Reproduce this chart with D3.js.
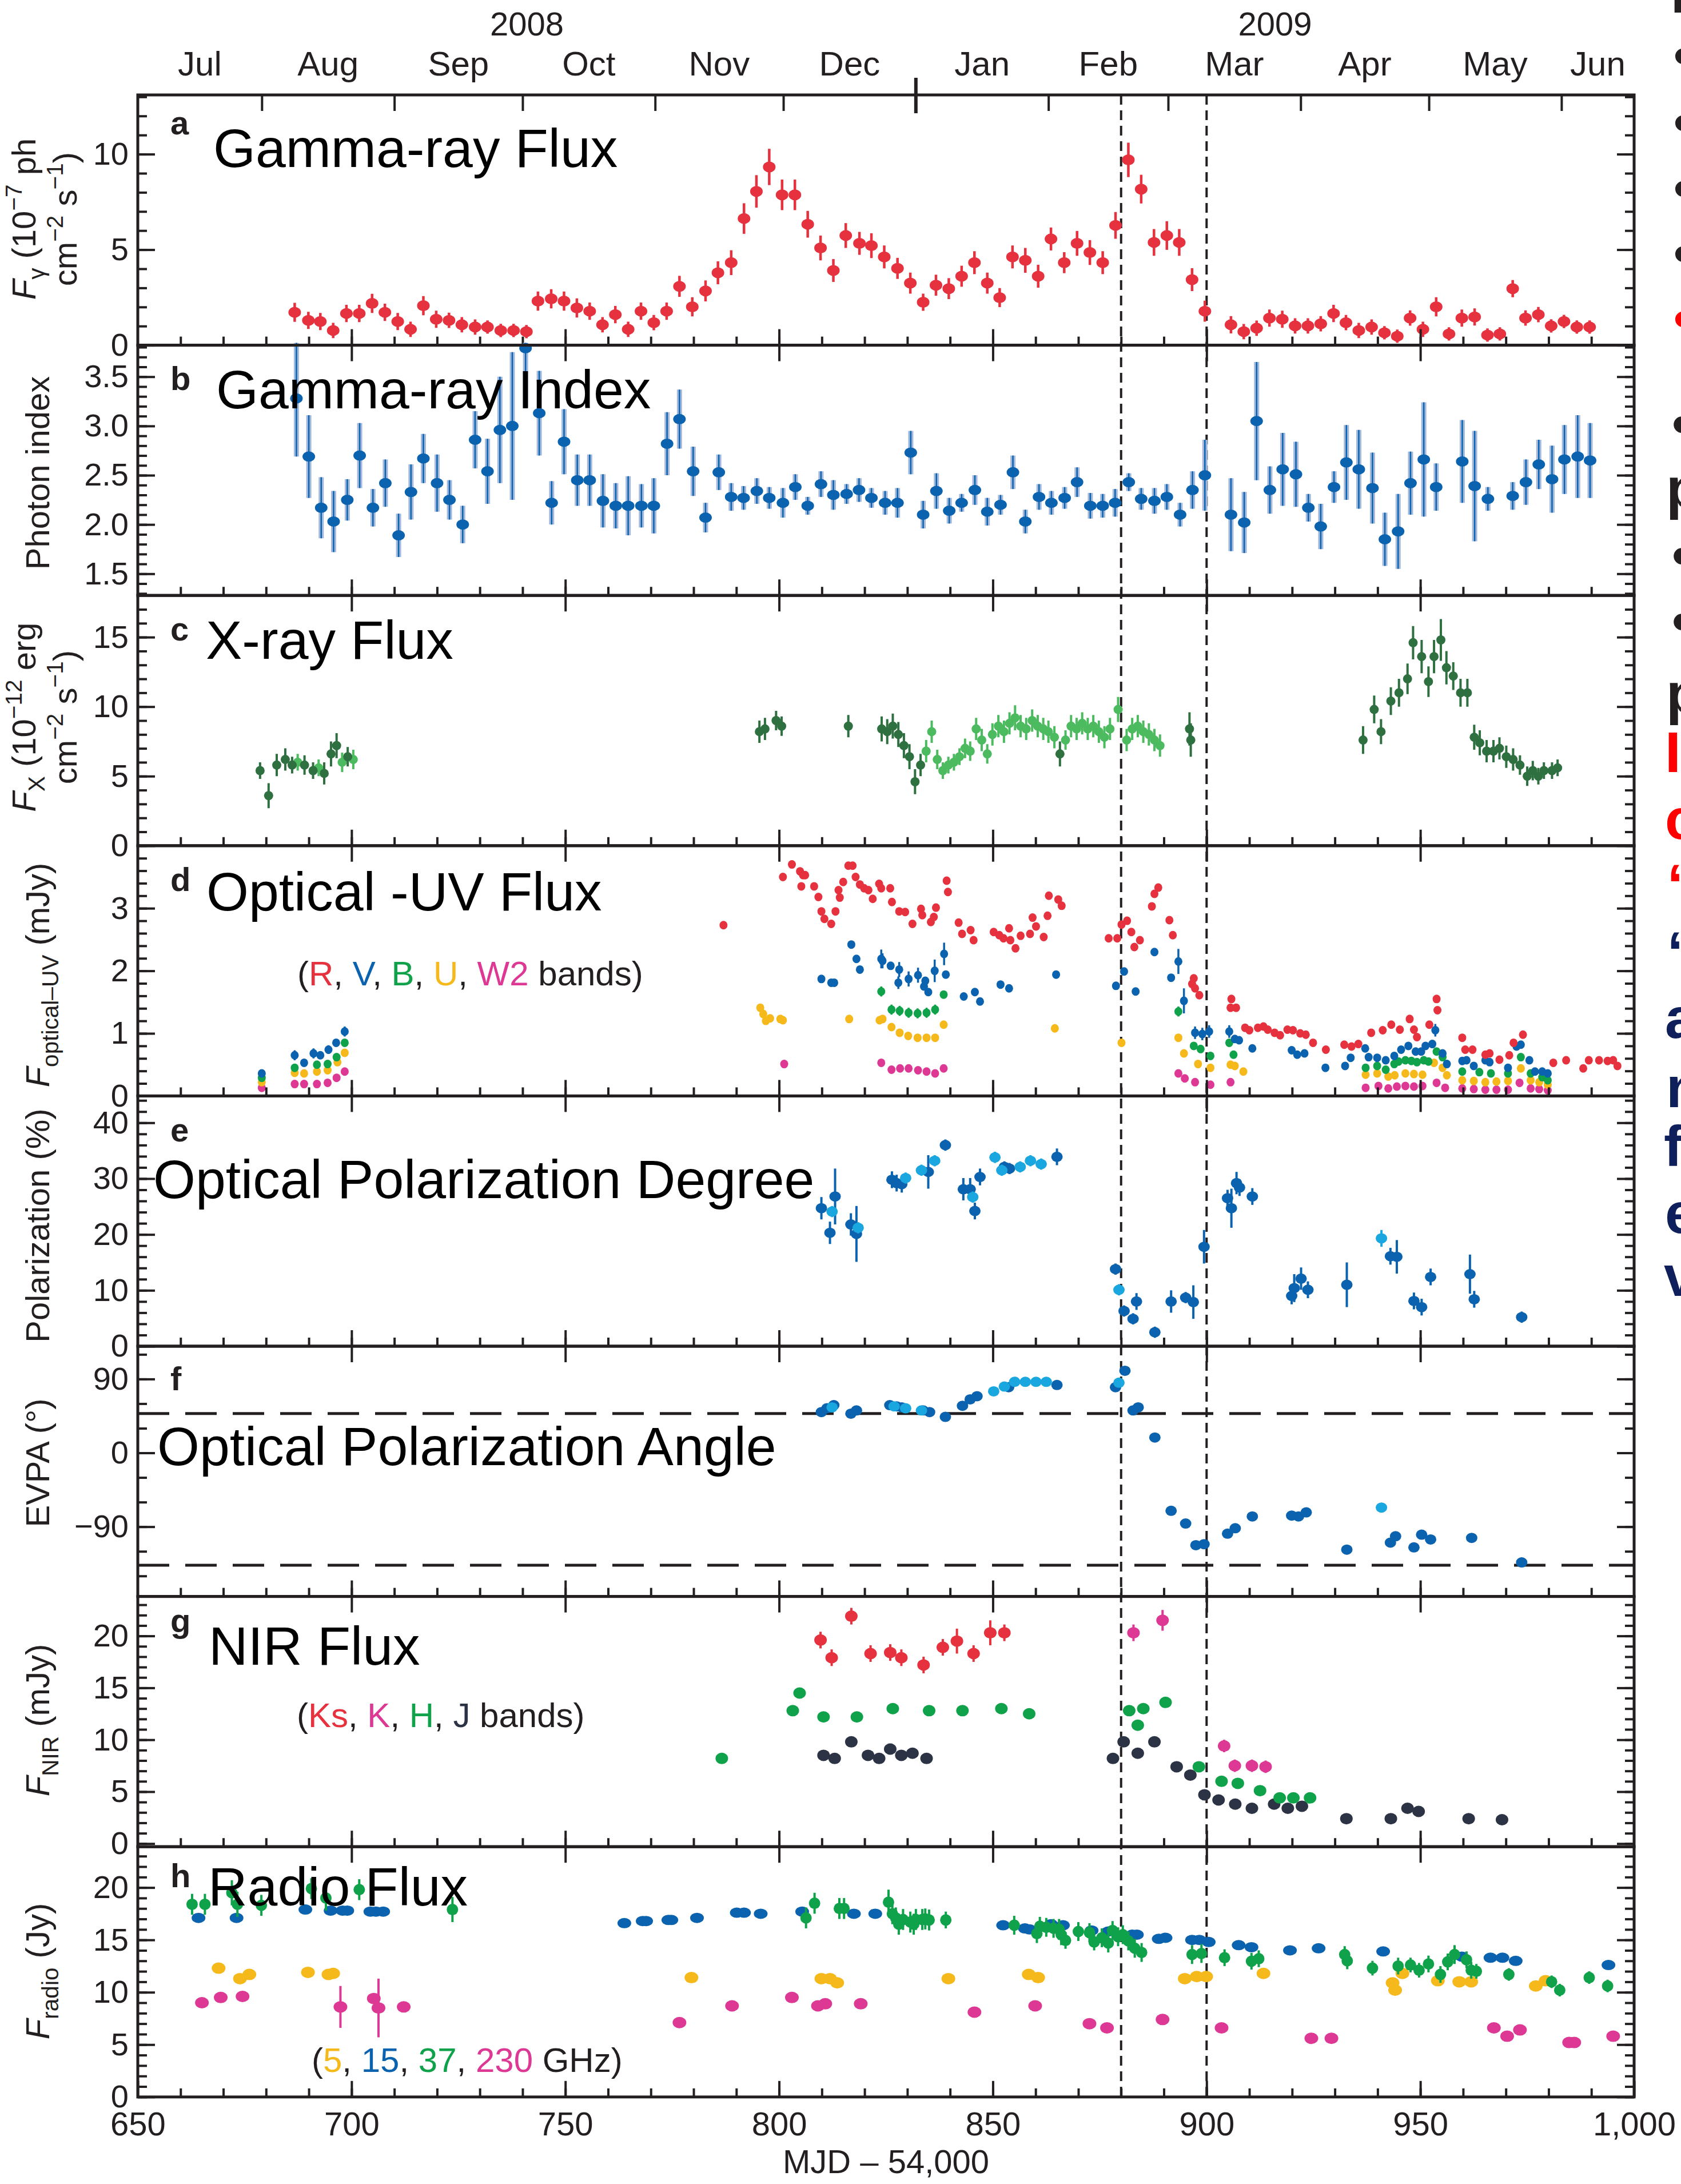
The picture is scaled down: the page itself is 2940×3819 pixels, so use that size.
<!DOCTYPE html>
<html>
<head>
<meta charset="utf-8">
<script src="https://cdn.jsdelivr.net/npm/d3@7"></script>
<style>
  html, body { margin: 0; padding: 0; background: #fff; }
  svg { display: block; font-family: "Liberation Sans", Arial, sans-serif; }
</style>
</head>
<body>
<svg id="chart" width="2940" height="3819"></svg>
<script>
// ---- data: [MJD-54000, value, error] ----
const gammaFlux = [[686.7,1.72,.5],[689.9,1.30,.45],[692.7,1.24,.45],[695.7,0.77,.4],[698.8,1.66,.45],[701.8,1.66,.45],[704.8,2.19,.5],[707.8,1.72,.45],[710.8,1.24,.45],[713.8,0.83,.4],[716.8,2.07,.5],[719.8,1.36,.45],[722.8,1.30,.4],[725.8,1.07,.4],[728.9,0.95,.4],[731.8,0.95,.35],[734.9,0.77,.35],[737.9,0.77,.35],[740.9,0.71,.35],[743.6,2.31,.5],[746.7,2.43,.5],[749.7,2.31,.5],[752.7,1.95,.5],[755.7,1.78,.45],[758.7,1.07,.4],[761.7,1.60,.45],[764.7,0.83,.4],[767.7,1.78,.45],[770.7,1.18,.4],[773.7,1.78,.45],[776.7,3.08,.55],[779.7,2.01,.5],[782.8,2.84,.55],[785.7,3.79,.6],[788.8,4.32,.65],[791.8,6.63,.8],[794.7,8.05,.85],[797.7,9.33,.95],[800.7,7.87,.8],[803.7,7.87,.8],[806.7,6.33,.7],[809.7,5.09,.65],[812.7,3.91,.6],[815.6,5.74,.65],[818.8,5.33,.6],[821.6,5.21,.65],[824.6,4.62,.6],[827.7,4.02,.55],[830.7,3.25,.55],[833.7,2.25,.45],[836.7,3.14,.55],[839.7,2.96,.55],[842.7,3.61,.55],[845.7,4.32,.6],[848.7,3.25,.55],[851.6,2.49,.5],[854.6,4.62,.6],[857.6,4.44,.65],[860.6,3.61,.6],[863.6,5.56,.6],[866.7,4.32,.55],[869.7,5.33,.65],[872.7,4.85,.65],[875.7,4.32,.6],[878.7,6.27,.7],[881.7,9.70,.9],[884.7,8.17,.75],[887.7,5.38,.7],[890.7,5.74,.75],[893.6,5.38,.7],[896.6,3.43,.6],[899.6,1.78,.55],[905.7,1.07,.45],[908.7,0.71,.4],[911.7,0.89,.4],[914.7,1.42,.45],[917.7,1.36,.45],[920.7,1.01,.4],[923.7,1.01,.4],[926.7,1.12,.4],[929.7,1.66,.45],[932.6,1.18,.4],[935.6,0.77,.4],[938.6,0.95,.4],[941.6,0.65,.35],[944.6,0.47,.35],[947.6,1.42,.4],[950.6,0.83,.4],[953.7,2.01,.5],[956.7,0.59,.35],[959.7,1.42,.45],[962.7,1.48,.45],[965.7,0.53,.35],[968.6,0.59,.35],[971.6,2.96,.45],[974.6,1.42,.4],[977.6,1.60,.4],[980.6,1.01,.35],[983.6,1.24,.35],[986.6,0.95,.35],[989.6,0.95,.35]];

const gammaIndex = [[687.1,3.28,.59],[690.0,2.69,.42],[692.9,2.17,.31],[695.8,2.03,.31],[699.0,2.25,.21],[701.9,2.70,.33],[705.0,2.17,.19],[707.9,2.42,.24],[711.0,1.89,.22],[713.9,2.33,.28],[716.8,2.67,.25],[720.0,2.42,.29],[722.9,2.25,.2],[726.0,2.00,.19],[728.9,2.86,.29],[731.8,2.54,.33],[734.7,2.96,.54],[737.6,3.00,.75],[740.7,3.79,.6],[743.9,3.13,.43],[746.8,2.22,.22],[749.7,2.84,.33],[752.8,2.45,.26],[755.7,2.45,.26],[758.8,2.24,.27],[761.8,2.19,.23],[764.7,2.19,.3],[767.8,2.19,.22],[770.7,2.19,.28],[773.8,2.82,.32],[776.7,3.07,.3],[779.9,2.54,.25],[782.8,2.07,.15],[785.9,2.53,.18],[788.8,2.28,.14],[791.7,2.27,.12],[794.8,2.34,.13],[797.7,2.27,.11],[800.9,2.22,.15],[803.8,2.38,.13],[806.7,2.19,.09],[809.8,2.41,.13],[812.7,2.30,.15],[815.8,2.31,.1],[818.7,2.35,.12],[821.6,2.27,.1],[824.8,2.22,.12],[827.7,2.22,.15],[830.8,2.73,.22],[833.7,2.10,.14],[836.8,2.34,.18],[839.8,2.14,.13],[842.7,2.22,.09],[845.8,2.35,.15],[848.7,2.13,.14],[851.8,2.20,.1],[854.7,2.53,.17],[857.6,2.03,.12],[860.8,2.28,.13],[863.7,2.22,.12],[866.8,2.27,.11],[869.7,2.43,.15],[872.8,2.19,.13],[875.7,2.19,.12],[878.6,2.22,.14],[881.8,2.43,.09],[884.7,2.26,.11],[887.8,2.24,.13],[890.7,2.28,.13],[893.8,2.10,.12],[896.7,2.35,.19],[899.6,2.50,.36],[905.7,2.10,.37],[908.8,2.02,.31],[911.7,3.05,.6],[914.8,2.35,.24],[917.8,2.56,.37],[920.9,2.51,.33],[923.8,2.17,.14],[926.7,1.98,.23],[929.8,2.38,.16],[932.7,2.63,.38],[935.6,2.56,.4],[938.8,2.37,.36],[941.7,1.85,.27],[944.8,1.93,.38],[947.7,2.42,.32],[950.8,2.66,.58],[953.7,2.38,.24],[959.8,2.64,.42],[962.7,2.39,.56],[965.8,2.26,.12],[971.6,2.29,.14],[974.7,2.43,.23],[977.7,2.61,.25],[980.8,2.46,.34],[983.7,2.66,.35],[986.8,2.69,.42],[989.7,2.65,.38]];

const xrayDark = [[678.6,5.4,.6],[680.6,3.6,.9],[682.5,5.8,.8],[684.5,6.2,.8],[686.1,5.8,.6],[689.0,5.8,.7],[691.0,5.4,.6],[693.6,5.2,.8],[695.2,6.6,.9],[696.5,7.2,.9],[699.1,6.4,.7],[795.4,8.2,.8],[796.7,8.4,.8],[799.3,9.0,.7],[800.6,8.6,.7],[816.2,8.6,.8],[824.0,8.4,.9],[825.3,8.2,.9],[826.6,8.6,.9],[827.9,8.0,.9],[829.2,7.2,.9],[830.5,6.4,.9],[831.8,4.6,.9],[833.1,5.8,.8],[865.7,6.6,.9],[896.0,8.4,1.2],[896.3,7.6,1.2],[936.6,7.6,1.0],[939.2,9.8,1.0],[940.8,8.2,.9],[943.1,10.4,1.0],[945.0,11.0,1.0],[947.0,12.0,1.1],[948.3,14.6,1.2],[950.3,13.6,1.2],[951.9,11.8,1.1],[953.2,13.6,1.2],[954.8,14.8,1.5],[956.1,12.8,1.2],[957.7,12.2,1.0],[959.4,11.0,1.0],[961.0,11.0,1.0],[962.6,7.8,.9],[963.9,7.4,.9],[965.5,6.8,.8],[967.1,6.8,.8],[968.5,7.0,.8],[970.1,6.4,.8],[971.7,6.2,.8],[973.3,5.8,.7],[975.0,5.0,.7],[976.3,5.4,.7],[977.6,5.0,.6],[978.9,5.4,.6],[980.8,5.4,.6],[982.1,5.6,.6]];
const xrayLight = [[687.4,6.0,.6],[692.3,5.6,.6],[697.8,6.0,.7],[700.4,6.2,.7],[834.4,6.8,.8],[835.7,8.2,.8],[837.0,6.2,.7],[838.3,5.4,.6],[839.6,5.8,.6],[840.9,6.0,.6],[842.2,6.4,.6],[843.5,7.0,.7],[844.7,6.8,.7],[846.1,8.4,.8],[847.4,7.6,.8],[848.7,6.6,.7],[849.9,8.0,.8],[851.3,8.6,.8],[852.6,8.2,.8],[853.9,8.8,.8],[855.2,9.2,.9],[856.5,8.6,.8],[857.8,8.4,.8],[859.2,9.0,.8],[860.5,8.6,.8],[861.8,8.4,.8],[863.0,8.2,.8],[864.4,7.8,.8],[867.0,7.6,.7],[868.3,8.6,.8],[869.6,8.4,.8],[870.9,8.8,.8],[872.2,8.4,.8],[873.5,8.6,.8],[874.8,8.2,.8],[876.1,7.8,.8],[877.4,8.4,.8],[879.3,9.8,.9],[881.3,7.6,.8],[882.6,8.4,.8],[883.9,8.6,.8],[885.2,8.2,.8],[886.5,8.0,.8],[887.8,7.6,.8],[889.1,7.2,.8]];

const optR = [[787.0,2.73],[800.9,3.50],[803.0,3.70],[804.9,3.59],[805.6,3.53],[806.1,3.53],[805.2,3.35],[808.2,3.35],[809.2,3.18],[809.9,2.95],[810.6,2.83],[812.2,2.75],[813.2,2.95],[814.2,3.17],[813.9,3.29],[815.0,3.42],[816.2,3.68],[817.2,3.68],[817.9,3.50],[818.9,3.38],[819.9,3.32],[820.9,3.29],[821.9,3.15],[823.4,3.39],[823.9,3.32],[826.0,3.32],[826.4,3.10],[828.1,2.95],[829.5,2.94],[831.2,2.75],[833.2,2.99],[833.5,2.89],[835.5,2.78],[836.2,2.86],[836.7,3.01],[839.2,3.44],[839.5,3.26],[842.0,2.77],[842.8,2.59],[844.8,2.65],[845.5,2.49],[850.2,2.62],[851.5,2.57],[852.5,2.52],[853.8,2.68],[854.1,2.49],[855.3,2.36],[856.5,2.56],[858.7,2.59],[859.3,2.85],[860.1,2.71],[861.9,2.54],[862.8,2.88],[863.1,3.20],[865.3,3.14],[866.1,3.04],[877.1,2.52],[879.1,2.52],[880.1,2.74],[881.4,2.80],[882.4,2.62],[883.1,2.38],[884.4,2.49],[887.2,3.03],[887.8,3.23],[888.7,3.33],[891.3,2.81],[892.1,2.57],[896.6,1.79],[897.0,1.88],[897.3,1.72],[898.3,1.61],[905.8,1.55],[905.6,1.41],[906.9,1.41],[909.0,1.09],[910.0,1.05],[912.0,1.09],[913.3,1.11],[914.3,1.06],[915.9,1.01],[917.2,0.97],[918.9,1.06],[920.2,1.05],[921.9,1.00],[923.2,0.98],[924.9,0.85],[927.9,0.74],[932.2,0.82],[933.9,0.79],[935.5,0.83],[938.5,1.01],[941.2,1.05],[943.2,1.14],[945.2,1.06],[947.5,1.23],[948.5,1.06],[949.2,0.94],[952.1,1.14],[953.8,1.55],[954.0,1.37],[959.8,0.93],[960.5,0.74],[962.2,0.74],[965.2,0.66],[966.2,0.68],[968.5,0.58],[970.8,0.65],[971.8,0.85],[974.0,0.98],[981.1,0.53],[984.1,0.57],[988.1,0.44],[989.4,0.57],[991.8,0.57],[993.8,0.56],[995.1,0.57],[996.1,0.48]];
const optV = [[679.0,0.36,.05],[686.7,0.65,.08],[688.9,0.53,.06],[691.1,0.68,.08],[692.7,0.65,.06],[694.6,0.74,.07],[696.4,0.85,.06],[698.4,1.03,.08],[809.9,1.87],[812.2,1.81],[812.9,1.81],[816.9,2.42],[818.1,2.19],[818.9,2.02],[823.9,2.19,.15],[824.2,2.16,.12],[826.1,2.08],[828.1,2.02,.12],[827.9,1.81,.1],[830.3,1.87,.12],[832.5,1.93,.12],[834.2,1.84],[833.9,1.75],[834.9,1.66],[836.4,2.00,.18],[838.6,2.27,.18],[839.0,1.94],[843.2,1.59],[845.8,1.66,.06],[847.0,1.51],[851.8,1.78],[853.8,1.72],[864.8,1.94],[878.8,1.76],[880.7,1.99],[883.4,1.67],[887.8,2.30],[891.7,1.89],[893.4,2.15,.2],[894.7,1.52,.2],[897.3,1.01,.1],[899.0,0.99,.1],[900.6,1.03,.1],[905.3,1.03,.1],[906.6,0.91],[907.6,0.89],[910.7,0.76],[919.9,0.73],[921.2,0.66],[922.9,0.68],[927.8,0.45],[932.4,0.48],[933.7,0.61],[937.1,0.76],[937.9,0.62],[939.9,0.61],[941.9,0.57],[943.9,0.64],[945.5,0.74],[947.2,0.80],[948.9,0.71],[950.2,0.71],[951.2,0.80],[952.8,0.83],[953.5,1.05,.1],[955.2,0.68],[956.2,0.51],[959.8,0.56],[960.8,0.57],[962.5,0.48],[965.2,0.57],[966.2,0.54],[970.5,0.45],[972.5,0.79],[973.5,0.82],[975.5,0.57],[976.8,0.39],[978.5,0.39],[979.8,0.36]];
const optB = [[679.0,0.29],[686.7,0.45],[691.9,0.50],[694.4,0.51],[696.5,0.62],[698.4,0.85],[823.9,1.67,.08],[826.3,1.38,.08],[828.2,1.36,.08],[830.3,1.33,.08],[832.4,1.32,.08],[834.5,1.33,.08],[836.5,1.38,.08],[838.5,1.62,.06],[893.4,1.35,.08],[897.0,0.80],[898.6,0.75],[900.9,0.64],[905.3,0.85],[906.3,0.66],[937.2,0.45],[939.9,0.48],[941.9,0.42],[943.9,0.51],[944.9,0.55],[946.5,0.57],[947.9,0.56],[949.2,0.54],[950.8,0.57],[951.9,0.55],[953.8,0.71],[955.2,0.62],[959.8,0.39],[963.8,0.38],[966.5,0.36],[970.5,0.36],[973.5,0.62],[975.8,0.36],[978.5,0.30],[979.8,0.25]];
const optU = [[679.0,0.22],[686.7,0.37],[688.9,0.36],[691.9,0.39],[694.4,0.41],[696.7,0.54],[698.4,0.69],[795.6,1.41],[796.3,1.31],[796.9,1.20],[797.9,1.24],[800.3,1.23],[800.9,1.21],[816.4,1.23],[823.5,1.21],[824.2,1.23],[826.3,1.10],[828.2,1.01],[830.2,0.96],[832.4,0.93],[834.5,0.93],[836.5,0.93],[838.5,1.14],[864.5,1.08],[880.1,0.85],[893.4,0.93],[894.7,0.68],[898.0,0.51],[900.9,0.45],[905.6,0.50],[906.6,0.48],[908.6,0.39],[937.2,0.34],[939.9,0.36],[942.5,0.31],[944.0,0.33],[946.5,0.36],[948.5,0.35],[950.5,0.34],[953.2,0.53],[955.2,0.45],[956.2,0.33],[959.8,0.25],[962.5,0.24],[965.2,0.22],[967.8,0.23],[970.5,0.24],[973.5,0.44],[975.8,0.25],[977.8,0.22],[979.8,0.18]];
const optW2 = [[679.0,0.13],[686.7,0.19],[688.9,0.19],[691.9,0.19],[694.4,0.21],[696.5,0.29],[698.4,0.39],[801.2,0.51],[823.9,0.53],[826.3,0.42],[828.3,0.44],[830.3,0.44],[832.5,0.41],[834.5,0.39],[836.5,0.36],[838.5,0.44],[893.4,0.36],[894.9,0.28],[897.3,0.22],[900.9,0.18],[905.6,0.22],[937.2,0.13],[940.2,0.16],[942.5,0.12],[944.5,0.15],[946.5,0.16],[948.5,0.15],[950.5,0.16],[953.8,0.21],[955.8,0.13],[959.8,0.12],[962.5,0.11],[965.2,0.10],[967.8,0.10],[970.5,0.10],[973.2,0.21],[975.8,0.12],[977.8,0.11],[979.8,0.09]];

const polDeg = [[809.9,24.7,2],[811.9,20.3,2],[813.1,26.8,5],[816.8,21.8,2],[818.1,20.1,5],[826.4,29.8,1.5],[827.5,29.2,1.5],[828.7,29.0,1.5],[834.9,31.2,3],[838.9,36.0,1],[843.1,28.1,2],[844.7,28.1,2],[845.8,24.2,1.5],[847.0,30.3,1.5],[852.7,32.1,1],[853.9,31.8,1],[865.0,33.9,1.5],[878.7,13.8,1],[880.7,6.3,1],[882.8,4.9,1],[883.6,8.0,1.5],[887.9,2.5,1],[891.7,8.0,2],[895.1,8.7,1],[896.9,7.9,3],[899.4,17.8,3],[904.9,26.5,1.5],[905.8,24.7,3.5],[907.0,29.2,2],[907.7,28.4,1.5],[910.7,26.8,1.5],[919.9,9.0,1.5],[920.5,10.4,2.5],[922.1,12.1,2],[923.7,10.1,1.5],[932.8,11.0,4],[943.0,16.1,1.5],[944.5,16.0,3],[948.5,8.1,1.5],[950.3,7.0,1.5],[952.4,12.4,1.5],[961.6,12.9,3.5],[962.6,8.4,1.5],[973.7,5.2,1]];
const polDegLight = [[812.4,24.1,1],[818.5,21.2,1],[829.6,30.1,1],[833.3,31.5,1],[836.4,33.2,1],[845.3,26.7,1],[850.5,33.8,1],[852.1,31.5,1],[856.4,32.1,1],[858.8,33.2,1],[861.3,32.6,1],[879.5,10.1,1],[940.9,19.3,1.5]];

const evpa = [[809.9,49.7,3],[811.2,54.3,3],[812.8,58.2,3],[816.8,47.8,3],[818.1,51.7,3],[825.9,58.2,3],[827.5,56.7,3],[828.7,55.5,3],[833.7,51.7,3],[835.2,49.7,3],[838.9,43.9,3],[842.9,57.4,3],[844.7,65.2,3],[846.3,69.1,3],[853.7,80.0,3],[865.0,82.7,4],[878.7,80.0,4],[880.9,100.1,5],[882.8,51.7,3],[884.0,55.5,3],[887.9,18.7,4],[891.7,-70.6,5],[895.1,-86.1,4],[897.5,-112.5,4],[899.4,-111.3,4],[904.9,-98.5,3],[906.7,-91.9,3],[910.7,-77.5,3],[919.9,-76.4,3],[921.5,-77.5,3],[923.3,-72.5,3],[932.8,-117.9,6],[943.0,-109.4,4],[944.2,-101.6,4],[948.5,-115.2,4],[950.3,-99.7,4],[952.4,-105.5,4],[962.0,-103.6,5],[973.7,-133.5,3]];
const evpaLight = [[812.4,55.5,3],[826.9,56.7,3],[829.6,54.3,3],[833.3,51.7,3],[850.2,75.0,3],[852.7,80.8,3],[855.1,86.6,3],[857.6,86.6,3],[860.1,86.6,3],[862.5,86.6,3],[879.5,85.5,3],[940.9,-66.7,3]];

const nirKs = [[809.7,19.6,.8],[812.3,17.9,.8],[816.9,21.9,.8],[821.4,18.3,.8],[826.0,18.4,.8],[828.6,17.9,.8],[833.8,17.2,.8],[838.3,18.9,.8],[841.6,19.5,1.2],[845.5,18.3,.8],[849.4,20.3,1.2],[852.7,20.3,.8]];
const nirK = [[882.9,20.3,.8],[889.7,21.5,1],[904.1,9.4,.6],[906.6,7.5,.6],[910.6,7.5,.6],[913.8,7.4,.6]];
const nirH = [[786.6,8.2],[803.2,12.8],[804.8,14.5],[810.4,12.2],[818.2,12.2],[826.6,13.0],[835.1,12.8],[842.9,12.8],[852.0,13.0],[858.5,12.5],[881.9,12.8],[883.9,11.4],[885.2,13.0],[890.4,13.6],[898.2,7.4],[903.5,6.0],[907.3,5.8],[912.5,5.1],[917.1,4.4],[920.3,4.4],[924.2,4.4]];
const nirJ = [[810.4,8.5],[813.0,8.2],[816.9,9.8],[820.8,8.5],[823.4,8.2],[826.0,9.1],[828.6,8.5],[831.2,8.7],[834.5,8.2],[878.1,8.2],[880.6,9.8],[883.9,8.7],[887.8,9.8],[893.0,7.4],[896.2,6.6],[899.5,4.7],[902.8,4.2],[906.7,3.8],[910.6,3.4],[915.8,3.8],[919.0,3.4],[922.3,3.6],[932.7,2.4],[943.1,2.4],[947.0,3.4],[949.6,3.1],[961.3,2.4],[969.1,2.3]];

const radio5 = [[668.9,12.3],[673.9,11.3],[676.1,11.7],[689.8,11.9],[694.6,11.7],[695.7,11.8],[779.5,11.4],[809.9,11.3],[811.9,11.3],[813.6,10.9],[839.6,11.3],[858.4,11.7],[860.6,11.4],[894.9,11.3],[897.7,11.5],[899.9,11.5],[913.3,11.8],[943.5,10.9],[944.1,10.2],[945.8,11.8],[954.1,11.1],[959.1,11.0],[961.9,11.0],[977.0,10.6],[979.3,11.1]];
const radio15 = [[664.2,17.1],[673.1,17.1],[689.2,17.9],[695.1,17.8],[697.9,17.8],[699.0,17.8],[704.4,17.7],[705.7,17.7],[707.4,17.7],[763.8,16.6],[768.1,16.8],[768.9,16.8],[774.1,16.9],[774.8,16.9],[780.8,17.1],[790.1,17.6],[791.8,17.6],[795.7,17.5],[805.4,17.7],[817.5,17.5],[822.5,17.5],[852.4,16.4],[857.5,16.1],[858.6,16.0],[863.6,16.5],[866.4,16.4],[873.1,15.9],[877.0,15.8],[882.6,15.5],[883.7,15.5],[888.8,15.1],[890.4,15.2],[896.6,15.0],[898.3,15.0],[900.5,14.8],[907.5,14.5],[910.5,14.3],[919.5,14.0],[926.2,14.2],[941.3,13.9],[959.7,13.4],[966.4,13.3],[969.2,13.3],[972.3,13.0],[994.0,12.6]];
const radio37 = [[662.7,18.4,1],[665.7,18.4,1],[672.0,19.5,1.2],[673.3,18.4,1.2],[678.9,18.3,1],[690.6,19.9,1],[694.0,19.0,1.2],[701.8,19.8,1],[723.6,17.9,1.2],[806.3,17.1,1],[808.3,18.5,1],[814.1,18.0,1],[815.2,18.0,1],[825.6,18.6,1.2],[826.5,17.5,1],[827.3,17.1,1],[828.0,16.5,1],[829.0,16.95,1],[830.7,16.7,1],[831.5,16.5,1],[832.0,16.95,1],[833.5,16.95,1],[834.2,17.0,1],[835.1,16.9,1],[839.0,16.9,.8],[855.0,16.4,.9],[860.3,15.6,.9],[861.0,16.3,.9],[862.5,16.2,.9],[864.2,16.1,.9],[865.5,16.0,1],[866.0,15.5,1],[867.0,14.95,.8],[870.0,15.8,.9],[872.6,15.7,.9],[873.7,14.8,.8],[875.5,15.2,.9],[877.0,14.7,.9],[878.0,15.9,.9],[879.3,15.3,.9],[880.4,15.5,.9],[881.7,14.9,.9],[883.2,14.2,.9],[884.8,13.8,.9],[896.6,13.6,.9],[898.8,13.7,.9],[904.2,13.3,.8],[910.5,12.96,.8],[912.2,13.2,.8],[932.3,13.6,.8],[932.9,13.0,.8],[938.8,12.3,.7],[944.8,12.5,.8],[947.7,12.6,.7],[949.7,12.1,.7],[951.9,12.7,.8],[954.7,11.7,.8],[956.4,12.9,.8],[958.0,13.6,.9],[960.8,13.1,.8],[961.9,12.1,.8],[963.1,12.0,.7],[970.7,11.7,.6],[980.7,11.0,.6],[982.6,10.2,.6],[989.5,11.4,.6],[993.8,10.6,.6]];
const radio230 = [[665.0,9.0],[669.4,9.5],[674.5,9.6],[697.4,8.6,2],[705.2,9.4],[706.3,8.5,2.8],[712.2,8.6],[776.7,7.1],[789.0,8.7],[803.0,9.5],[809.1,8.7],[810.8,8.9],[819.1,8.9],[845.7,8.1],[859.9,8.7],[872.6,7.0],[876.7,6.6],[889.7,7.4],[903.5,6.6],[924.5,5.6],[929.2,5.6],[967.2,6.6],[970.3,5.8],[973.3,6.4],[984.8,5.2],[986.0,5.2],[995.1,5.8]];

const monthNames = ["Jul","Aug","Sep","Oct","Nov","Dec","Jan","Feb","Mar","Apr","May","Jun"];
const monthStarts = [648,679,710,740,771,801,832,863,891,922,952,983,1013];
const yearNames = ["2008","2009"];
const yearStarts = [648,832,1013];
const flareDays = [880, 900];
const evpaGuides = [48, -137];

// ---- look ----
const ink = "#231f20", red = "#e5323e", blue = "#0b62ae", lightBlue = "#a3b9dc",
      green = "#10a24a", yellow = "#f6b91b", magenta = "#dd3893", cyan = "#1aa6df",
      navy = "#2b3344", darkGreen = "#2e7040", lightGreen = "#4cba5e";

const svg = d3.select("#chart");
const x = d3.scaleLinear().domain([650, 1000]).range([241, 2858]);
const top0 = 166, ph = 437.6;

const panels = [
  {key:"a", title:"Gamma-ray Flux", domain:[0,13.1], major:[0,5,10], minor:1, fmt:"d", letterDy:69, titleX:373, titleDy:126, labelY:383,
   label:[[["F","i"],["γ","sub"],[" (10"],["−7","sup"],[" ph"]],[["cm"],["−2","sup"],[" s"],["−1","sup"],[")"]]],
   series:[{data:gammaFlux, color:red, rx:11, ry:9.5, ew:4.5}]},
  {key:"b", title:"Gamma-ray Index", domain:[1.28,3.82], major:[1.5,2,2.5,3,3.5], minor:0.1, fmt:".1f", letterDy:78, titleX:378, titleDy:110, labelY:827,
   label:[[["Photon index"]]],
   series:[{data:gammaIndex, color:blue, bar:lightBlue, rx:11, ry:9, ew:2.5}]},
  {key:"c", title:"X-ray Flux", domain:[0,18], major:[0,5,10,15], minor:1, fmt:"d", letterDy:79, titleX:360, titleDy:111, labelY:1254,
   label:[[["F","i"],["X","sub"],[" (10"],["−12","sup"],[" erg"]],[["cm"],["−2","sup"],[" s"],["−1","sup"],[")"]]],
   series:[{data:xrayLight, color:lightGreen, rx:8, ry:8, ew:4},{data:xrayDark, color:darkGreen, rx:8, ry:8, ew:4}]},
  {key:"d", title:"Optical -UV Flux", domain:[0,4], major:[0,1,2,3], minor:0.2, fmt:"d", letterDy:79, titleX:361, titleDy:113, labelY:1705,
   label:[[["F","i"],["optical–UV","sub"],[" (mJy)"]]],
   series:[{data:optW2, color:magenta, rx:7, ry:7.5, ew:3.5},{data:optU, color:yellow, rx:7, ry:7.5, ew:3.5},{data:optB, color:green, rx:7, ry:7.5, ew:3.5},
           {data:optV, color:blue, rx:7, ry:7.5, ew:3.5},{data:optR, color:red, rx:7, ry:7.5, ew:3.5}]},
  {key:"e", title:"Optical Polarization Degree", domain:[0,44.8], major:[0,10,20,30,40], minor:2, fmt:"d", letterDy:80, titleX:268, titleDy:179, labelY:2143,
   label:[[["Polarization (%)"]]],
   series:[{data:polDeg, color:blue, rx:10, ry:9, ew:4},{data:polDegLight, color:cyan, rx:10, ry:9, ew:4}]},
  {key:"f", title:"Optical Polarization Angle", domain:[-175,130], major:[-90,0,90], minor:30, fmt:"d", letterDy:77, titleX:275, titleDy:208, labelY:2558,
   label:[[["EVPA (°)"]]],
   series:[{data:evpa, color:blue, rx:10, ry:9, ew:4},{data:evpaLight, color:cyan, rx:10, ry:9, ew:4}]},
  {key:"g", title:"NIR Flux", domain:[-0.3,23.8], major:[0,5,10,15,20], minor:1, fmt:"d", letterDy:62, titleX:365, titleDy:119, labelY:3008,
   label:[[["F","i"],["NIR","sub"],[" (mJy)"]]],
   series:[{data:nirJ, color:navy, rx:11, ry:10, ew:4},{data:nirH, color:green, rx:11, ry:10, ew:4},{data:nirK, color:magenta, rx:11, ry:10, ew:4},{data:nirKs, color:red, rx:11, ry:10, ew:4}]},
  {key:"h", title:"Radio Flux", domain:[0,23.9], major:[0,5,10,15,20], minor:1, fmt:"d", letterDy:71, titleX:364, titleDy:103, labelY:3447,
   label:[[["F","i"],["radio","sub"],[" (Jy)"]]],
   series:[{data:radio5, color:yellow, rx:12, ry:10, ew:4},{data:radio230, color:magenta, rx:12, ry:10, ew:4},{data:radio15, color:blue, rx:12, ry:9, ew:4},{data:radio37, color:green, rx:10, ry:10, ew:4}]}
];

const legends = [
  {x:520, y:1723, parts:[["(",ink],["R",red],[", ",ink],["V",blue],[", ",ink],["B",green],[", ",ink],["U",yellow],[", ",ink],["W2",magenta],[" bands)",ink]]},
  {x:519, y:3020, parts:[["(",ink],["Ks",red],[", ",ink],["K",magenta],[", ",ink],["H",green],[", ",ink],["J",navy],[" bands)",ink]]},
  {x:545, y:3623, parts:[["(",ink],["5",yellow],[", ",ink],["15",blue],[", ",ink],["37",green],[", ",ink],["230",magenta],[" GHz)",ink]]}
];

// clipped text from the slide next to the figure
const edgeText = [
  ["I",2922,22,ink,"bold"],["•",2926,132,ink,"normal"],["•",2926,249,ink,"normal"],["•",2926,364,ink,"normal"],["•",2926,478,ink,"normal"],
  ["•",2926,592,"#ff0000","normal"],["•",2924,776,ink,"bold"],["p",2914,888,ink,"bold"],["•",2924,1006,ink,"bold"],["•",2924,1121,ink,"bold"],
  ["p",2914,1247,ink,"bold"],["I",2912,1350,"#ff0000","bold"],["c",2912,1467,"#ff0000","bold"],["‘",2916,1582,"#ff0000","bold"],
  ["‘",2916,1700,"#0f1f5c","bold"],["a",2912,1815,"#0f1f5c","bold"],["n",2914,1936,"#0f1f5c","bold"],["f",2910,2039,"#0f1f5c","bold"],
  ["e",2912,2156,"#0f1f5c","bold"],["v",2910,2266,"#0f1f5c","bold"]
];

function styleAxis(g) {
  g.select(".domain").remove();
  g.attr("color", ink).attr("font-family", "'Liberation Sans', Arial, sans-serif");
  g.selectAll("line").attr("stroke-width", 4);
}

function richText(sel, parts, size) {
  let shift = 0;
  parts.forEach(p => {
    const kind = p[1];
    const s = kind === "sub" ? 0.28 * size : kind === "sup" ? -0.42 * size : 0;
    sel.append("tspan")
      .attr("dy", s - shift)
      .attr("font-size", kind === "sub" || kind === "sup" ? size * 0.7 : size)
      .attr("font-style", kind === "i" ? "italic" : "normal")
      .text(p[0]);
    shift = s;
  });
}

function drawSeries(g, y, s) {
  const withErr = s.data.filter(d => d.length > 2);
  if (s.bar) {
    g.append("g").selectAll("line").data(withErr).join("line")
      .attr("x1", d => x(d[0])).attr("x2", d => x(d[0]))
      .attr("y1", d => y(d[1] - d[2])).attr("y2", d => y(d[1] + d[2]))
      .attr("stroke", s.bar).attr("stroke-width", 9);
  }
  g.append("g").selectAll("line").data(withErr).join("line")
    .attr("x1", d => x(d[0])).attr("x2", d => x(d[0]))
    .attr("y1", d => y(d[1] - d[2])).attr("y2", d => y(d[1] + d[2]))
    .attr("stroke", s.color).attr("stroke-width", s.ew);
  g.append("g").selectAll("ellipse").data(s.data).join("ellipse")
    .attr("cx", d => x(d[0])).attr("cy", d => y(d[1]))
    .attr("rx", s.rx).attr("ry", s.ry).attr("fill", s.color);
}

// flare guide lines behind everything
svg.append("g").selectAll("line").data(flareDays).join("line")
  .attr("x1", d => x(d)).attr("x2", d => x(d))
  .attr("y1", top0).attr("y2", top0 + 8 * ph)
  .attr("stroke", ink).attr("stroke-width", 4).attr("stroke-dasharray", "17,10");

panels.forEach((p, i) => {
  const y0 = top0 + i * ph, y1 = y0 + ph;
  const y = d3.scaleLinear().domain(p.domain).range([y1, y0]);
  const g = svg.append("g");

  svg.append("clipPath").attr("id", "clip-" + p.key)
    .append("rect").attr("x", 241).attr("y", y0 - 4).attr("width", 2617).attr("height", ph + 8);

  if (p.key === "f") {
    g.append("g").selectAll("line").data(evpaGuides).join("line")
      .attr("x1", 241).attr("x2", 2858).attr("y1", d => y(d)).attr("y2", d => y(d))
      .attr("stroke", ink).attr("stroke-width", 5).attr("stroke-dasharray", "55,28");
  }

  const marks = g.append("g").attr("clip-path", `url(#clip-${p.key})`);
  p.series.forEach(s => drawSeries(marks, y, s));

  // frame
  g.append("rect").attr("x", 241).attr("y", y0).attr("width", 2617).attr("height", ph)
    .attr("fill", "none").attr("stroke", ink).attr("stroke-width", 5);

  // y ticks
  const minorVals = d3.range(Math.ceil(p.domain[0] / p.minor) * p.minor, p.domain[1], p.minor);
  g.append("g").attr("transform", "translate(241,0)")
    .call(d3.axisLeft(y).tickValues(minorVals).tickSize(-16).tickFormat("")).call(styleAxis);
  g.append("g").attr("transform", "translate(241,0)")
    .call(d3.axisLeft(y).tickValues(p.major).tickSize(-30).tickPadding(16).tickFormat(d3.format(p.fmt)))
    .call(styleAxis).attr("font-size", 56);
  g.append("g").attr("transform", "translate(2858,0)")
    .call(d3.axisRight(y).tickValues(minorVals).tickSize(-16).tickFormat("")).call(styleAxis);
  g.append("g").attr("transform", "translate(2858,0)")
    .call(d3.axisRight(y).tickValues(p.major).tickSize(-30).tickFormat("")).call(styleAxis);

  // x ticks, bottom
  g.append("g").attr("transform", `translate(0,${y1})`)
    .call(d3.axisBottom(x).tickValues(d3.range(660, 1000, 10)).tickSize(-15).tickFormat("")).call(styleAxis);
  const bottomMajor = d3.axisBottom(x).tickSize(-28);
  if (p.key === "h") {
    bottomMajor.tickValues(d3.range(650, 1001, 50)).tickPadding(26).tickFormat(d3.format(","));
  } else {
    bottomMajor.tickValues(d3.range(700, 1000, 50)).tickFormat("");
  }
  g.append("g").attr("transform", `translate(0,${y1})`).call(bottomMajor).call(styleAxis).attr("font-size", 58);

  // x ticks, top
  if (i > 0) {
    g.append("g").attr("transform", `translate(0,${y0})`)
      .call(d3.axisTop(x).tickValues(d3.range(700, 1000, 50)).tickSize(-28).tickFormat("")).call(styleAxis);
  } else {
    g.append("g").attr("transform", `translate(0,${y0})`)
      .call(d3.axisTop(x).tickValues(monthStarts.filter(d => d > 650 && d < 1000 && yearStarts.indexOf(d) < 0)).tickSize(-28).tickFormat(""))
      .call(styleAxis);
    g.append("g").selectAll("line").data(yearStarts.filter(d => d > 650 && d < 1000)).join("line")
      .attr("x1", d => x(d)).attr("x2", d => x(d)).attr("y1", y0 - 30).attr("y2", y0 + 32)
      .attr("stroke", ink).attr("stroke-width", 6);
  }

  // panel letter and title
  g.append("text").attr("x", 298).attr("y", y0 + p.letterDy)
    .attr("font-size", 58).attr("font-weight", "bold").attr("fill", ink).text(p.key);
  g.append("text").attr("x", p.titleX).attr("y", y0 + p.titleDy)
    .attr("font-size", 95).attr("fill", "#000").text(p.title);

  // y label
  const baseX = p.label.length > 1 ? [62, 134] : [86];
  p.label.forEach((line, li) => {
    const t = g.append("text")
      .attr("transform", `translate(${baseX[li]},${p.labelY}) rotate(-90)`)
      .attr("text-anchor", "middle").attr("fill", ink);
    richText(t, line, 58);
  });
});

// month / year labels on top
const months = monthNames.map((m, i) => ({name: m, mid: (Math.max(monthStarts[i], 650) + Math.min(monthStarts[i + 1], 1000)) / 2}));
svg.append("g").selectAll("text").data(months).join("text")
  .attr("x", d => x(d.mid)).attr("y", 132).attr("text-anchor", "middle")
  .attr("font-size", 60).attr("fill", ink).text(d => d.name);
const years = yearNames.map((n, i) => ({name: n, mid: (Math.max(yearStarts[i], 650) + Math.min(yearStarts[i + 1], 1000)) / 2}));
svg.append("g").selectAll("text").data(years).join("text")
  .attr("x", d => x(d.mid)).attr("y", 62).attr("text-anchor", "middle")
  .attr("font-size", 58).attr("fill", ink).text(d => d.name);

// x axis title
svg.append("text").attr("x", x(825)).attr("y", 3800).attr("text-anchor", "middle")
  .attr("font-size", 58).attr("fill", ink).text("MJD – 54,000");

// band legends
legends.forEach(l => {
  const t = svg.append("text").attr("x", l.x).attr("y", l.y).attr("font-size", 60);
  l.parts.forEach(p => t.append("tspan").attr("fill", p[1]).text(p[0]));
});

// fragments of neighbouring slide text at the right edge
svg.append("g").selectAll("text").data(edgeText).join("text")
  .attr("x", d => d[1]).attr("y", d => d[2]).attr("fill", d => d[3])
  .attr("font-weight", d => d[4]).attr("font-size", 100).text(d => d[0]);
</script>
</body>
</html>
